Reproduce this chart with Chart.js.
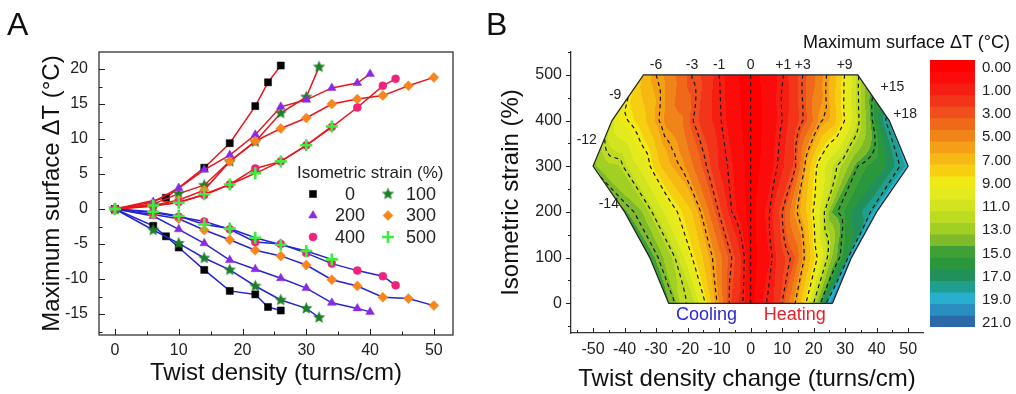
<!DOCTYPE html>
<html>
<head>
<meta charset="utf-8">
<script src="https://cdn.jsdelivr.net/npm/chart.js@4.4.0/dist/chart.umd.min.js"></script>
<style>
  body { margin: 0; background: #fff; width: 1016px; height: 394px; overflow: hidden; position: relative;
         font-family: "Liberation Sans", Arial, Helvetica, sans-serif; }
  canvas { position: absolute; top: 0; }
  .lbl { position: absolute; color: #111; line-height: 1; white-space: nowrap; }
</style>
</head>
<body>
<canvas id="chartA" width="480" height="394" style="left:0"></canvas>
<canvas id="chartB" width="448" height="394" style="left:480px"></canvas>
<canvas id="colorBar" width="91" height="394" style="left:925px"></canvas>
<div class="lbl" style="left:7px;top:8px;font-size:32px">A</div>
<div class="lbl" style="left:486px;top:8px;font-size:32px">B</div>
<div class="lbl" style="left:803px;top:33px;font-size:18px">Maximum surface ΔT (°C)</div>
<script>
// ---- measured runs: twist density (turns/cm) vs max surface temperature change (°C)
const strainLevels = [0, 100, 200, 300, 400, 500];

const twist0Heat = [0, 8, 14, 18, 22, 24, 26];
const twist0Cool = [0, 6, 8, 10, 14, 18, 22, 24, 26];
const twist100 = [0, 6, 10, 14, 18, 22, 26, 30, 32];
const twist200 = [0, 6, 10, 14, 18, 22, 26, 30, 34, 38, 40];
const twist300 = [0, 6, 10, 14, 18, 22, 26, 30, 34, 38, 42, 46, 50];
const twist400 = [0, 6, 10, 14, 18, 22, 26, 30, 34, 38, 42, 44];
const twist500 = [0, 6, 10, 14, 18, 22, 26, 30, 34];

// twisting -> heating
const heat0 = [0, 1.6, 5.9, 9.4, 14.7, 18.1, 20.5];
const heat100 = [0, 0.7, 2.2, 3.4, 6.8, 9.6, 13.7, 16.0, 20.3];
const heat200 = [0, 1.0, 3.0, 5.6, 7.7, 10.6, 14.6, 15.6, 17.3, 18.0, 19.3];
const heat300 = [0, 0.5, 1.3, 2.7, 6.8, 9.7, 11.5, 13.0, 15.0, 15.7, 16.2, 17.6, 18.8];
const heat400 = [0, 0.4, 1.0, 2.0, 3.5, 5.8, 6.8, 9.1, 11.7, 14.5, 17.6, 18.6];
const heat500 = [0, 0.5, 0.9, 2.1, 3.5, 5.1, 6.8, 9.1, 11.8];

// untwisting -> cooling
const cool0 = [0, -2.4, -3.9, -5.5, -8.7, -11.7, -12.2, -14.0, -14.5];
const cool100 = [0, -3.0, -4.9, -7.0, -8.7, -11.0, -13.0, -14.2, -15.5];
const cool200 = [0, -1.0, -2.9, -4.9, -7.3, -8.6, -9.9, -11.3, -13.4, -14.2, -14.7];
const cool300 = [0, -0.8, -1.4, -3.0, -4.4, -5.9, -6.7, -8.0, -10.1, -11.0, -12.6, -12.8, -13.8];
const cool400 = [0, -0.5, -1.1, -1.8, -2.9, -4.7, -5.0, -6.3, -7.8, -8.8, -9.6, -10.9];
const cool500 = [0, -0.4, -1.0, -2.2, -2.8, -4.1, -5.1, -6.0, -7.2];

const heatRuns = [[twist0Heat, heat0], [twist100, heat100], [twist200, heat200],
                  [twist300, heat300], [twist400, heat400], [twist500, heat500]];
const coolRuns = [[twist0Cool, cool0], [twist100, cool100], [twist200, cool200],
                  [twist300, cool300], [twist400, cool400], [twist500, cool500]];

// axis ticks
const xTicksA = [0, 10, 20, 30, 40, 50];
const yTicksA = [-15, -10, -5, 0, 5, 10, 15, 20];
const xTicksB = [-50, -40, -30, -20, -10, 0, 10, 20, 30, 40, 50];
const yTicksB = [0, 100, 200, 300, 400, 500];

// contour levels (signed dT) and |dT| colour bands
const contourLevels = [-14, -12, -9, -6, -3, -1, 0, 1, 3, 6, 9, 12, 15, 18];
const topLabelLevels = [-6, -3, -1, 0, 1, 3, 9];
const edgeLabels = [
  { text: '-9', x: -43, y: 455 }, { text: '-12', x: -52, y: 357 }, { text: '-14', x: -45, y: 217 },
  { text: '+15', x: 45, y: 472 }, { text: '+18', x: 49, y: 415 }
];
const bandThresholds = [0.25, 0.75, 1.5, 2.5, 3.5, 4.5, 5.5, 6.5, 7.5, 8.5, 9.5, 10.5,
  11.5, 12.5, 13.5, 14.5, 15.5, 16.5, 17.5, 18.5, 19.5, 20.5];
const bandColors = ['#ff0000', '#fc0b0b', '#f61d13', '#f2341a', '#f04e1c', '#f0681a', '#f18418',
  '#f49f15', '#f6b812', '#f5cf10', '#f0e915', '#e3ea1e', '#d2e41f', '#bcdb21', '#a2cf23',
  '#7fba2a', '#3fa035', '#2a973d', '#21905b', '#1f9f8f', '#28afcf', '#2a8ec0', '#2a6aa8'];
const colorBarLabels = ['0.00', '1.00', '3.00', '5.00', '7.00', '9.00', '11.0', '13.0', '15.0', '17.0', '19.0', '21.0'];

Chart.defaults.font.family = '"Liberation Sans", Arial, Helvetica, sans-serif';
Chart.defaults.color = '#222';
Chart.defaults.animation = false;

// filled five-point star marker
function makeStar(color, R) {
  const c = document.createElement('canvas');
  const s = Math.ceil(R * 2 + 2);
  c.width = c.height = s;
  const g = c.getContext('2d');
  g.fillStyle = color;
  g.beginPath();
  for (let k = 0; k < 10; k++) {
    const r = k % 2 ? R * 0.45 : R;
    const ang = -Math.PI / 2 + k * Math.PI / 5;
    g.lineTo(s / 2 + r * Math.cos(ang), s / 2 + r * Math.sin(ang));
  }
  g.closePath();
  g.fill();
  return c;
}

const markers = [
  { label: '0', color: '#000000', style: 'rect', radius: 5, width: 0.5 },
  { label: '100', color: '#1d7f2a', style: makeStar('#1d7f2a', 6.5), radius: 6, width: 1 },
  { label: '200', color: '#8a2be2', style: 'triangle', radius: 5, width: 0.5 },
  { label: '300', color: '#f7861e', style: 'rectRot', radius: 5, width: 0.5 },
  { label: '400', color: '#f0227a', style: 'circle', radius: 4, width: 0.5 },
  { label: '500', color: '#3cee3c', style: 'cross', radius: 6, width: 2.6 }
];

function halfSteps(ticks, lo, hi) {
  const step = ticks[1] - ticks[0];
  const out = [];
  for (let v = ticks[0] - step / 2; v <= hi; v += step) if (v >= lo) out.push(v);
  return out;
}

// tick marks drawn on the chart-area edges (inward or outward)
const axisTicks = {
  id: 'axisTicks',
  afterDraw(chart, args, opts) {
    const { ctx, chartArea: a } = chart;
    ctx.save();
    ctx.strokeStyle = '#222';
    ctx.lineWidth = 1;
    ctx.beginPath();
    for (const m of opts.marks) {
      const sc = chart.scales[m.axis];
      for (const [vals, len] of [[m.major, m.majorLen], [m.minor, m.minorLen]]) {
        for (const v of vals) {
          const p = Math.round(sc.getPixelForValue(v)) + 0.5;
          if (m.axis === 'x') { ctx.moveTo(p, a.bottom); ctx.lineTo(p, a.bottom - len * m.dir); }
          else { ctx.moveTo(a.left, p); ctx.lineTo(a.left + len * m.dir, p); }
        }
      }
    }
    ctx.stroke();
    ctx.restore();
  }
};

const frameBox = {
  id: 'frameBox',
  afterDraw(chart) {
    const { ctx, chartArea: a } = chart;
    ctx.save();
    ctx.strokeStyle = '#333';
    ctx.lineWidth = 1.3;
    ctx.strokeRect(a.left, a.top, a.right - a.left, a.bottom - a.top);
    ctx.restore();
  }
};

// two-column legend inside the plot area
const strainLegend = {
  id: 'strainLegend',
  afterDatasetsDraw(chart) {
    const { ctx, chartArea: a } = chart;
    ctx.save();
    ctx.fillStyle = '#222';
    ctx.font = '17px "Liberation Sans", Arial, sans-serif';
    ctx.textBaseline = 'middle';
    ctx.textAlign = 'left';
    ctx.fillText('Isometric strain (%)', a.left + 198, a.top + 121);
    ctx.font = '18px "Liberation Sans", Arial, sans-serif';
    ctx.textAlign = 'center';
    markers.forEach((m, i) => {
      const col = i % 2, row = Math.floor(i / 2);
      const y = a.top + 142 + row * 21.5;
      const mx = a.left + (col ? 289 : 214);
      const tx = a.left + (col ? 322 : 251);
      ctx.fillStyle = m.color;
      ctx.strokeStyle = m.color;
      ctx.lineWidth = m.width;
      Chart.helpers.drawPoint(ctx, { pointStyle: m.style, radius: m.radius, rotation: 0, borderWidth: m.width }, mx, y);
      ctx.fillStyle = '#222';
      ctx.fillText(m.label, tx, y + 1);
    });
    ctx.restore();
  }
};

// higher strains are drawn on top (lower order)
const datasetsA = [];
function addRuns(runs, lineColor) {
  runs.forEach(([tw, dt], i) => {
    const m = markers[i];
    datasetsA.push({
      data: tw.map((x, k) => ({ x, y: dt[k] })),
      order: runs.length - i,
      showLine: true, borderColor: lineColor, borderWidth: 1.5,
      pointStyle: m.style, pointRadius: m.radius, pointBorderWidth: m.width,
      pointBackgroundColor: m.color, pointBorderColor: m.color
    });
  });
}
addRuns(heatRuns, '#e8151b');
addRuns(coolRuns, '#2424d2');

new Chart(document.getElementById('chartA'), {
  type: 'scatter',
  data: { datasets: datasetsA },
  options: {
    responsive: false,
    layout: { padding: { left: 0, right: 27, top: 52, bottom: 0 } },
    plugins: {
      legend: { display: false }, tooltip: { enabled: false },
      axisTicks: { marks: [
        { axis: 'x', major: xTicksA, minor: halfSteps(xTicksA, -2.5, 53), majorLen: 6, minorLen: 3.5, dir: 1 },
        { axis: 'y', major: yTicksA, minor: halfSteps(yTicksA, -18, 22.4), majorLen: 6, minorLen: 3.5, dir: 1 }
      ] }
    },
    scales: {
      x: {
        type: 'linear', min: -2.5, max: 53,
        afterBuildTicks: s => { s.ticks = xTicksA.map(v => ({ value: v })); },
        afterFit: s => { s.height = 59; },
        grid: { display: false, drawTicks: false }, border: { display: false },
        ticks: { font: { size: 16 }, padding: 6, maxRotation: 0, autoSkip: false },
        title: { display: true, text: 'Twist density (turns/cm)', font: { size: 24 }, color: '#111', padding: { top: 0, bottom: 6.6 } }
      },
      y: {
        type: 'linear', min: -18, max: 22.43,
        afterBuildTicks: s => { s.ticks = yTicksA.map(v => ({ value: v })); },
        afterFit: s => { s.width = 99; },
        grid: { display: false, drawTicks: false }, border: { display: false },
        ticks: { font: { size: 16 }, padding: 11, autoSkip: false },
        title: { display: true, text: 'Maximum surface ΔT (°C)', font: { size: 24 }, color: '#111', padding: { top: 37.6, bottom: 0 } }
      }
    }
  },
  plugins: [frameBox, axisTicks, strainLegend]
});

// ---- panel B: signed dT over (twist change, strain); untwisting plotted at negative x
const rows = strainLevels.map((s, i) => {
  const [cx, cv] = coolRuns[i];
  const [hx, hv] = heatRuns[i];
  const pts = [];
  for (let k = cx.length - 1; k > 0; k--) pts.push([-cx[k], cv[k]]);
  for (let k = 0; k < hx.length; k++) pts.push([hx[k], hv[k]]);
  return { s, pts, lo: -cx[cx.length - 1], hi: hx[hx.length - 1] };
});

function rowValue(row, x) {
  const p = row.pts;
  if (x <= p[0][0]) return p[0][1];
  for (let k = 1; k < p.length; k++) {
    if (x <= p[k][0]) {
      const f = (x - p[k - 1][0]) / (p[k][0] - p[k - 1][0]);
      return p[k - 1][1] + f * (p[k][1] - p[k - 1][1]);
    }
  }
  return p[p.length - 1][1];
}

function rowPair(y) {
  let i = 0;
  while (i < rows.length - 2 && y > rows[i + 1].s) i++;
  const a = rows[i], b = rows[i + 1];
  const t = (y - a.s) / (b.s - a.s);
  return { a, b, t, lo: a.lo + (b.lo - a.lo) * t, hi: a.hi + (b.hi - a.hi) * t };
}

function field(x, y) {
  if (y < strainLevels[0] || y > strainLevels[strainLevels.length - 1]) return null;
  const { a, b, t, lo, hi } = rowPair(y);
  if (x < lo || x > hi) return null;
  let va, vb;
  if (x < 0) { const u = x / lo; va = rowValue(a, u * a.lo); vb = rowValue(b, u * b.lo); }
  else { const u = x / hi; va = rowValue(a, u * a.hi); vb = rowValue(b, u * b.hi); }
  return va + (vb - va) * t;
}

function crossing(level, y) {
  const { lo, hi } = rowPair(y);
  let x0 = lo, x1 = hi;
  const f0 = field(x0, y) - level, f1 = field(x1, y) - level;
  if (f0 > 0 || f1 < 0) return null;
  for (let it = 0; it < 40; it++) {
    const xm = (x0 + x1) / 2;
    if (field(xm, y) - level > 0) x1 = xm; else x0 = xm;
  }
  return (x0 + x1) / 2;
}

function bandOf(v) {
  let b = 0;
  while (b < bandThresholds.length && v >= bandThresholds[b]) b++;
  return b;
}

function hexToRgb(h) {
  return [parseInt(h.slice(1, 3), 16), parseInt(h.slice(3, 5), 16), parseInt(h.slice(5, 7), 16)];
}

const contourMap = {
  id: 'contourMap',
  beforeDatasetsDraw(chart) {
    const { ctx, chartArea: a, scales: { x, y } } = chart;
    const w = Math.ceil(a.right - a.left), h = Math.ceil(a.bottom - a.top);
    const off = document.createElement('canvas');
    off.width = w; off.height = h;
    const octx = off.getContext('2d');
    const img = octx.createImageData(w, h);
    const rgb = bandColors.map(hexToRgb);
    for (let j = 0; j < h; j++) {
      const yv = y.getValueForPixel(a.top + j + 0.5);
      for (let i = 0; i < w; i++) {
        const v = field(x.getValueForPixel(a.left + i + 0.5), yv);
        if (v === null) continue;
        const c = rgb[bandOf(Math.abs(v))];
        const k = (j * w + i) * 4;
        img.data[k] = c[0]; img.data[k + 1] = c[1]; img.data[k + 2] = c[2]; img.data[k + 3] = 255;
      }
    }
    octx.putImageData(img, 0, 0);
    ctx.drawImage(off, a.left, a.top);

    // dashed iso-dT lines
    ctx.save();
    ctx.strokeStyle = '#151515';
    ctx.lineWidth = 1.2;
    ctx.setLineDash([4, 3.5]);
    const yTop = y.getPixelForValue(500), yBot = y.getPixelForValue(0);
    for (const lv of contourLevels) {
      ctx.beginPath();
      let pen = false;
      for (let py = yTop; py <= yBot + 0.01; py += 1.5) {
        const yv = Math.min(500, Math.max(0, y.getValueForPixel(py)));
        const xv = crossing(lv, yv);
        if (xv === null) { pen = false; continue; }
        const px = x.getPixelForValue(xv);
        if (pen) ctx.lineTo(px, py); else { ctx.moveTo(px, py); pen = true; }
      }
      ctx.stroke();
    }
    ctx.restore();
  },
  afterDatasetsDraw(chart) {
    const { ctx, scales: { x, y } } = chart;
    ctx.save();
    ctx.fillStyle = '#222';
    ctx.font = '14px "Liberation Sans", Arial, sans-serif';
    ctx.textAlign = 'center';
    ctx.textBaseline = 'middle';
    for (const lv of topLabelLevels) {
      const xv = crossing(lv, 500);
      if (xv === null) continue;
      ctx.fillText(lv > 0 ? '+' + lv : String(lv), x.getPixelForValue(xv), y.getPixelForValue(521));
    }
    for (const e of edgeLabels) ctx.fillText(e.text, x.getPixelForValue(e.x), y.getPixelForValue(e.y));
    ctx.font = '18px "Liberation Sans", Arial, sans-serif';
    ctx.fillStyle = '#2a2ad8';
    ctx.fillText('Cooling', x.getPixelForValue(-14), y.getPixelForValue(-25));
    ctx.fillStyle = '#e8202a';
    ctx.fillText('Heating', x.getPixelForValue(14), y.getPixelForValue(-25));
    ctx.restore();
  }
};

// hexagonal outline through the end points of every strain row
const outline = [];
rows.forEach(r => outline.push({ x: r.hi, y: r.s }));
rows.slice().reverse().forEach(r => outline.push({ x: r.lo, y: r.s }));
outline.push(outline[0]);

new Chart(document.getElementById('chartB'), {
  type: 'scatter',
  data: { datasets: [{ data: outline, showLine: true, borderColor: '#222', borderWidth: 1.2, pointRadius: 0, tension: 0 }] },
  options: {
    responsive: false,
    layout: { padding: { left: 0, right: 5, top: 52, bottom: 0 } },
    plugins: {
      legend: { display: false }, tooltip: { enabled: false },
      axisTicks: { marks: [
        { axis: 'x', major: xTicksB, minor: halfSteps(xTicksB, -57, 54.7), majorLen: 5, minorLen: 3, dir: 1 },
        { axis: 'y', major: yTicksB, minor: halfSteps(yTicksB, -65, 550), majorLen: 5, minorLen: 3, dir: -1 }
      ] }
    },
    scales: {
      x: {
        type: 'linear', min: -57, max: 54.7,
        afterBuildTicks: s => { s.ticks = xTicksB.map(v => ({ value: v })); },
        afterFit: s => { s.height = 61; },
        grid: { display: false, drawTicks: false }, border: { display: true, color: '#333', width: 1.3 },
        ticks: { font: { size: 16 }, padding: 7, maxRotation: 0, autoSkip: false },
        title: { display: true, text: 'Twist density change (turns/cm)', font: { size: 24 }, color: '#111', padding: { top: 0, bottom: 0 } }
      },
      y: {
        type: 'linear', min: -65, max: 550,
        afterBuildTicks: s => { s.ticks = yTicksB.map(v => ({ value: v })); },
        afterFit: s => { s.width = 91; },
        grid: { display: false, drawTicks: false }, border: { display: true, color: '#333', width: 1.3 },
        ticks: { font: { size: 16 }, padding: 9, autoSkip: false },
        title: { display: true, text: 'Isometric strain (%)', font: { size: 24 }, color: '#111', padding: { top: 17.3, bottom: 0 } }
      }
    }
  },
  plugins: [contourMap, axisTicks]
});

// ---- colour scale
new Chart(document.getElementById('colorBar'), {
  type: 'bar',
  data: {
    labels: [''],
    datasets: bandColors.map(c => ({ data: [1], backgroundColor: c, borderWidth: 0, barPercentage: 1, categoryPercentage: 1 }))
  },
  options: {
    responsive: false,
    layout: { padding: { left: 5, right: 0, top: 60, bottom: 67 } },
    plugins: { legend: { display: false }, tooltip: { enabled: false } },
    scales: {
      x: { display: false, stacked: true },
      y: {
        stacked: true, reverse: true, min: 0, max: bandColors.length, position: 'right',
        afterBuildTicks: s => { s.ticks = colorBarLabels.map((l, k) => ({ value: 2 * k + 0.66 })); },
        afterFit: s => { s.width = 41; },
        grid: { display: false, drawTicks: false }, border: { display: false },
        ticks: { font: { size: 15 }, padding: 7, autoSkip: false, callback: (v, i) => colorBarLabels[i] }
      }
    }
  }
});
</script>
</body>
</html>
